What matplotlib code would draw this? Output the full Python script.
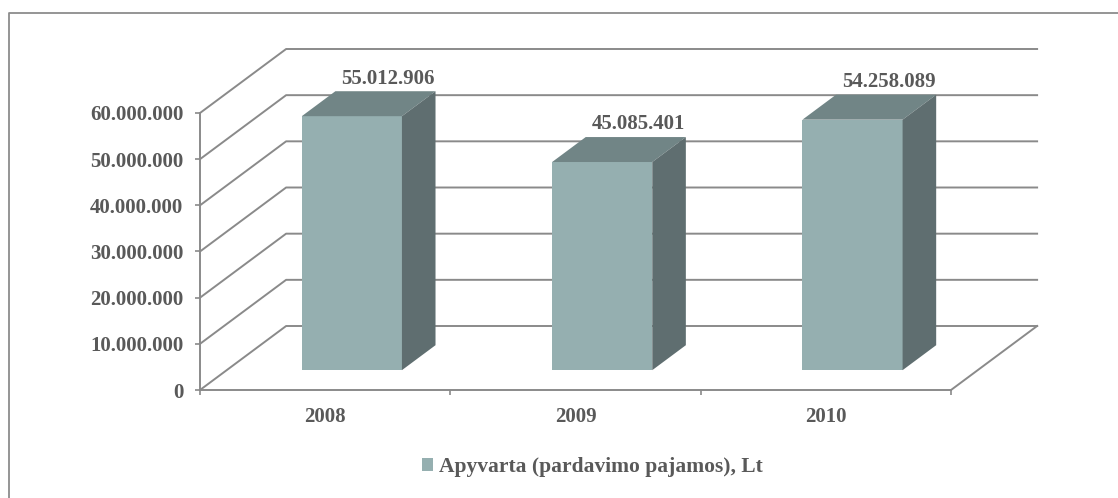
import matplotlib.pyplot as plt
from matplotlib.patches import Polygon, Patch
from matplotlib.lines import Line2D

years = ['2008', '2009', '2010']
apyvarta = [55012906, 45085401, 54258089]
y_ticks = [0, 10000000, 20000000, 30000000, 40000000, 50000000, 60000000]
legend_label = 'Apyvarta (pardavimo pajamos), Lt'

front_col = '#95afb0'
top_col = '#718586'
side_col = '#5f6e70'
line_col = '#8a8a8a'
text_col = '#595959'

plt.rcParams['font.family'] = ['Liberation Serif', 'DejaVu Serif']
plt.rcParams['font.weight'] = 'bold'

fig = plt.figure(figsize=(11.18, 4.98), dpi=100)
ax = fig.add_axes([200 / 1118, 108 / 498, 751 / 1118, 277 / 498])
ax.set_xlim(-0.5, 2.5)
ax.set_ylim(0, 60000000)
ax.patch.set_visible(False)

# glubinis poslinkis (duomenu vienetais)
DX = 86 / 250
DY = 64 / 277 * 60000000
d0, d1 = 0.31, 0.70
w = 0.4

# tinklelis su galine siena
for v in y_ticks:
    ax.plot([-0.5, -0.5 + DX, 2.5 + DX], [v, v + DY, v + DY],
            color=line_col, lw=1.4, clip_on=False, zorder=1)
# grindys
ax.plot([2.5, 2.5 + DX], [0, DY], color=line_col, lw=1.4, clip_on=False, zorder=1)

# stulpeliai
for i, v in enumerate(apyvarta):
    xl = i - w / 2 + d0 * DX
    xr = i + w / 2 + d0 * DX
    yb = d0 * DY
    yt = v + d0 * DY
    ox = (d1 - d0) * DX
    oy = (d1 - d0) * DY
    ax.add_patch(Polygon([(xl, yb), (xr, yb), (xr, yt), (xl, yt)],
                         closed=True, fc=front_col, ec='none', zorder=3, clip_on=False))
    ax.add_patch(Polygon([(xl, yt), (xr, yt), (xr + ox, yt + oy), (xl + ox, yt + oy)],
                         closed=True, fc=top_col, ec='none', zorder=3, clip_on=False))
    ax.add_patch(Polygon([(xr, yb), (xr + ox, yb + oy), (xr + ox, yt + oy), (xr, yt)],
                         closed=True, fc=side_col, ec='none', zorder=3, clip_on=False))
    lbl = f'{v:,}'.replace(',', '.')
    ax.annotate(lbl, (i + d1 * DX, v + d1 * DY), xytext=(2, 5.5), textcoords='offset points',
                ha='center', va='baseline', fontsize=15, fontweight='bold', color=text_col,
                zorder=5, annotation_clip=False)

for s in ['top', 'right']:
    ax.spines[s].set_visible(False)
for s in ['left', 'bottom']:
    ax.spines[s].set_color(line_col)
    ax.spines[s].set_linewidth(1.4)
    ax.spines[s].set_zorder(2)

ax.set_yticks(y_ticks)
ax.set_yticklabels([f'{v:,}'.replace(',', '.') for v in y_ticks])
ax.tick_params(axis='y', direction='out', length=3.6, width=1.2, color=line_col,
               pad=8.5, labelsize=15, labelcolor=text_col)
ax.set_xticks(range(len(years)))
ax.set_xticklabels(years)
ax.set_xticks([-0.5, 0.5, 1.5, 2.5], minor=True)
ax.tick_params(axis='x', which='major', length=0, pad=12, labelsize=15, labelcolor=text_col)
ax.tick_params(axis='x', which='minor', direction='out', length=3.6, width=1.2, color=line_col)

# remelis
fig.add_artist(Line2D([9 / 1118, 9 / 1118, 1.01], [-0.01, 1 - 13 / 498, 1 - 13 / 498],
                      transform=fig.transFigure, color='#8c8c8c', lw=1.3))

fig.legend(handles=[Patch(facecolor=front_col, edgecolor='none', label=legend_label)],
           loc='center', bbox_to_anchor=(592 / 1118, 1 - 467 / 498), frameon=False,
           fontsize=15.5, handlelength=0.55, handleheight=0.55, handletextpad=0.25,
           borderpad=0, labelcolor=text_col)

fig.savefig('out.png', dpi=100, facecolor='white')
